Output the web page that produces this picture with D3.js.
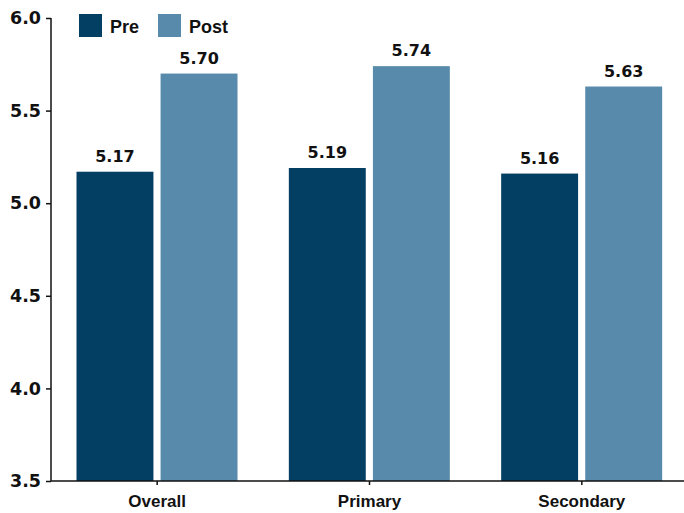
<!DOCTYPE html>
<html><head><meta charset="utf-8">
<script src="https://cdn.jsdelivr.net/npm/d3@7"></script>
<style>body{margin:0;background:#fff}</style>
</head><body>
<svg id="chart" width="684" height="513"></svg>
<script>
const categories = ["Overall", "Primary", "Secondary"];
const seriesNames = ["Pre", "Post"];
const preValues = [5.17, 5.19, 5.16];
const postValues = [5.70, 5.74, 5.63];
const yTicks = [3.5, 4.0, 4.5, 5.0, 5.5, 6.0];
const colors = ["#033f63", "#578aab"];

const svg = d3.select("#chart");
const mLeft = 51, mRight = 688, mTop = 18, mBottom = 481;
const numFont = "DejaVu Sans, sans-serif";
const txtFont = "Liberation Sans, Arial, sans-serif";

const x0 = d3.scaleBand().domain(categories).range([mLeft, mRight]).paddingInner(0).paddingOuter(0);
const x1 = d3.scaleBand().domain(seriesNames).range([25.5, 212 - 25.5]).paddingInner(0.085);
const y = d3.scaleLinear().domain([3.5, 6.0]).range([mBottom, mTop]);

const data = categories.map((c, i) => ({cat: c, vals: [
  {s: "Pre", v: preValues[i], c: colors[0]},
  {s: "Post", v: postValues[i], c: colors[1]}
]}));

const g = svg.selectAll("g.grp").data(data).join("g")
  .attr("class", "grp")
  .attr("transform", d => `translate(${x0(d.cat)},0)`);
g.selectAll("rect").data(d => d.vals).join("rect")
  .attr("x", d => x1(d.s)).attr("width", x1.bandwidth())
  .attr("y", d => y(d.v)).attr("height", d => y(3.5) - y(d.v))
  .attr("fill", d => d.c);
g.selectAll("text.val").data(d => d.vals).join("text")
  .attr("class", "val")
  .attr("x", d => x1(d.s) + x1.bandwidth() / 2)
  .attr("y", d => y(d.v) - 10)
  .attr("text-anchor", "middle")
  .attr("font-family", numFont).attr("font-weight", "bold").attr("font-size", 16)
  .attr("fill", "#111")
  .text(d => d.v.toFixed(2));

// Y axis
const yAxis = svg.append("g").attr("transform", `translate(${mLeft},0)`)
  .call(d3.axisLeft(y).tickValues(yTicks).tickFormat(d3.format(".1f")).tickSize(5).tickPadding(5));
yAxis.select(".domain").attr("stroke", "#111").attr("stroke-width", 1.5).attr("d", `M0,${mTop}V${mBottom}`);
yAxis.selectAll(".tick line").attr("stroke", "#111").attr("stroke-width", 1.5);
yAxis.selectAll(".tick text").attr("font-family", numFont).attr("font-weight", "bold")
  .attr("font-size", 17.5).attr("fill", "#111");

// X axis
const xAxis = svg.append("g").attr("transform", `translate(0,${mBottom})`)
  .call(d3.axisBottom(x0).tickSize(4).tickPadding(10));
xAxis.select(".domain").attr("stroke", "#111").attr("stroke-width", 1.5).attr("d", `M${mLeft},0H684`);
xAxis.selectAll(".tick line").attr("stroke", "#111").attr("stroke-width", 1.5);
xAxis.selectAll(".tick text").attr("font-family", txtFont).attr("font-weight", "bold")
  .attr("font-size", 17).attr("fill", "#111").attr("dy", "0.71em");

// Legend
const legendX = [79, 158];
const leg = svg.selectAll("g.leg").data(seriesNames).join("g")
  .attr("class", "leg")
  .attr("transform", (d, i) => `translate(${legendX[i]},14)`);
leg.append("rect").attr("width", 23).attr("height", 23).attr("fill", (d, i) => colors[i]);
leg.append("text").attr("x", 31).attr("y", 18.5)
  .attr("font-family", txtFont).attr("font-weight", "bold").attr("font-size", 18)
  .attr("fill", "#111").text(d => d);
</script>
</body></html>
